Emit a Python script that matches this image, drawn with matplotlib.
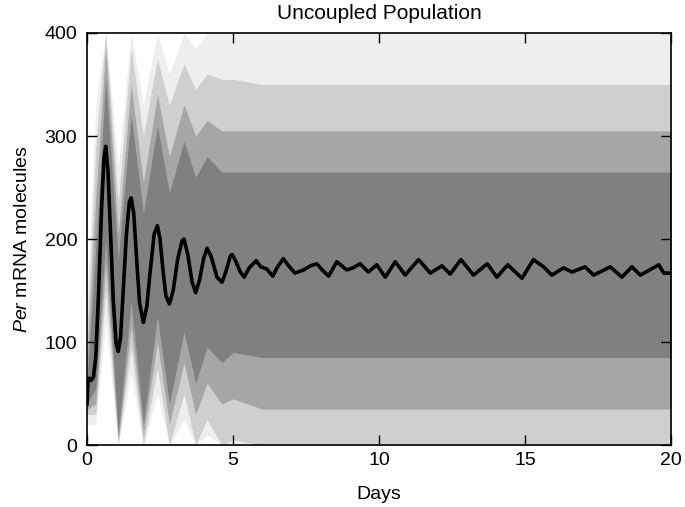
import matplotlib
matplotlib.use('Agg')
import matplotlib.pyplot as plt

plt.rcParams['font.family'] = ['Liberation Sans', 'DejaVu Sans']
plt.rcParams['mathtext.fontset'] = 'custom'
plt.rcParams['mathtext.rm'] = 'Liberation Sans'
plt.rcParams['mathtext.it'] = 'Liberation Sans:italic'

# mean Per mRNA over the population
mean_t = [0, 0.03, 0.08, 0.15, 0.22, 0.3, 0.4, 0.5, 0.58, 0.64, 0.72, 0.8, 0.9, 1.0, 1.07,
          1.15, 1.25, 1.35, 1.45, 1.51, 1.6, 1.7, 1.8, 1.93, 2.05, 2.15, 2.3, 2.41, 2.5, 2.6,
          2.7, 2.82, 2.95, 3.1, 3.25, 3.32, 3.45, 3.6, 3.72, 3.85, 4.0, 4.11, 4.25, 4.45, 4.62,
          4.75, 4.9, 4.97, 5.1, 5.25, 5.38, 5.55, 5.79, 5.95, 6.15, 6.36, 6.5, 6.72, 6.9, 7.12,
          7.41, 7.65, 7.87, 8.05, 8.27, 8.55, 8.89, 9.1, 9.35, 9.63, 9.92, 10.21, 10.55, 10.89,
          11.1, 11.35, 11.75, 12.15, 12.43, 12.8, 13.23, 13.7, 14.03, 14.4, 14.89, 15.28, 15.63,
          15.91, 16.31, 16.6, 17.05, 17.34, 17.91, 18.31, 18.65, 18.94, 19.57, 19.74, 20.0]
mean_v = [40, 60, 65, 63, 66, 85, 150, 230, 278, 290, 265, 210, 140, 98, 91,
          105, 155, 205, 236, 240, 225, 180, 138, 119, 135, 165, 205, 213, 200, 170,
          145, 137, 150, 180, 198, 200, 185, 158, 148, 160, 182, 191, 183, 163, 158,
          168, 183, 185, 178, 168, 163, 172, 179, 173, 171, 164, 172, 181, 174, 167,
          170, 174, 176, 170, 164, 178, 170, 172, 176, 168, 175, 163, 178, 165,
          172, 180, 167, 174, 166, 180, 165, 176, 163, 175, 162, 180, 173,
          165, 172, 168, 173, 165, 173, 163, 173, 165, 175, 167, 167]

# spread of the single-cell traces, four density levels (faint -> dense)
band_t = [0, 0.3, 0.64, 1.07, 1.51, 1.93, 2.41, 2.82, 3.32, 3.72, 4.11, 4.62, 5.0, 6, 8, 10, 12, 14, 16, 18, 20]
l1_lo = [20, 20, 120, 0, 70, 0, 50, 0, 25, 0, 10, 0, 0, 0, 0, 0, 0, 0, 0, 0, 0]
l1_hi = [140, 330, 400, 270, 400, 330, 400, 360, 400, 385, 400, 400, 400, 400, 400, 400, 400, 400, 400, 400, 400]
l2_lo = [30, 30, 150, 0, 95, 0, 75, 0, 50, 0, 25, 0, 5, 0, 0, 0, 0, 0, 0, 0, 0]
l2_hi = [110, 290, 400, 235, 385, 300, 375, 330, 370, 345, 360, 355, 355, 350, 350, 350, 350, 350, 350, 350, 350]
l3_lo = [35, 40, 175, 5, 115, 10, 100, 20, 80, 30, 60, 40, 45, 35, 35, 35, 35, 35, 35, 35, 35]
l3_hi = [85, 240, 385, 205, 350, 255, 340, 280, 330, 300, 315, 305, 305, 305, 305, 305, 305, 305, 305, 305, 305]
l4_lo = [40, 55, 200, 10, 140, 20, 125, 40, 110, 60, 95, 80, 90, 85, 85, 85, 85, 85, 85, 85, 85]
l4_hi = [65, 190, 355, 180, 320, 225, 310, 245, 295, 260, 280, 265, 265, 265, 265, 265, 265, 265, 265, 265, 265]

fig = plt.figure(figsize=(6.85, 5.07), dpi=100)
ax = fig.add_axes([0.127, 0.122, 0.853, 0.813])

ax.fill_between(band_t, l1_lo, l1_hi, color='#eeeeee', lw=0)
ax.fill_between(band_t, l2_lo, l2_hi, color='#cfcfcf', lw=0)
ax.fill_between(band_t, l3_lo, l3_hi, color='#a6a6a6', lw=0)
ax.fill_between(band_t, l4_lo, l4_hi, color='#808080', lw=0)
ax.plot(mean_t, mean_v, color='black', lw=2.6, solid_joinstyle='round')

ax.set_xlim(0, 20)
ax.set_ylim(0, 400)
ax.set_xticks([0, 5, 10, 15, 20])
ax.set_yticks([0, 100, 200, 300, 400])
ax.tick_params(direction='in', length=7, width=1, top=True, right=True, labelsize=14)
ax.tick_params(axis='x', pad=5)
ax.tick_params(axis='y', pad=7)
for s in ax.spines.values():
    s.set_linewidth(1.2)

ax.set_title('Uncoupled Population', fontsize=15, pad=10)
ax.set_xlabel('Days', fontsize=14, labelpad=12)
ax.set_ylabel(r'$\it{Per}$ mRNA molecules', fontsize=14, labelpad=10)

fig.savefig('out.png', dpi=100)
